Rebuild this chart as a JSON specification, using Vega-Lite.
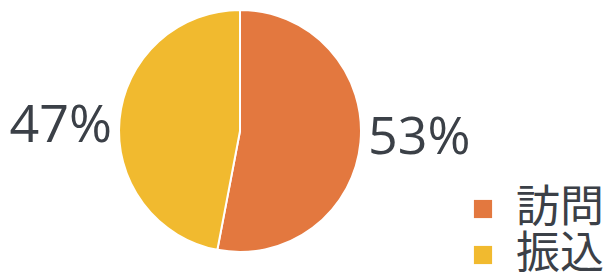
{
  "$schema": "https://vega.github.io/schema/vega-lite/v6.json",
  "width": 480,
  "height": 242,
  "autosize": "none",
  "padding": {"left": 0, "top": 10, "right": 124, "bottom": 23},
  "background": "white",
  "view": {"stroke": null},
  "data": {"values": [
    {"category": "訪問", "value": 53, "label": "53%", "ord": 1},
    {"category": "振込", "value": 47, "label": "47%", "ord": 2}
  ]},
  "encoding": {
    "theta": {"field": "value", "type": "quantitative", "stack": true},
    "order": {"field": "ord", "type": "quantitative"}
  },
  "layer": [
    {
      "mark": {"type": "arc", "outerRadius": 121, "stroke": "white", "strokeWidth": 2},
      "encoding": {
        "color": {
          "field": "category", "type": "nominal",
          "scale": {"domain": ["訪問", "振込"], "range": ["#E3783F", "#F1BA2F"]},
          "legend": {
            "title": null, "orient": "none", "legendX": 461, "legendY": 177,
            "symbolType": "square", "symbolSize": 330, "symbolStrokeWidth": 0,
            "labelFont": "Noto Sans CJK JP", "labelFontSize": 44, "labelColor": "#3b4047",
            "labelLimit": 200, "rowPadding": 2, "labelOffset": 11
          }
        }
      }
    },
    {
      "mark": {"type": "text", "radius": 180, "dy": -10, "font": "Open Sans", "fontSize": 52, "fill": "#3b4047"},
      "encoding": {
        "text": {"field": "label"},
        "opacity": {"condition": {"test": "datum.category === '訪問'", "value": 1}, "value": 0}
      }
    },
    {
      "mark": {"type": "text", "radius": 180, "dy": 12, "font": "Open Sans", "fontSize": 52, "fill": "#3b4047"},
      "encoding": {
        "text": {"field": "label"},
        "opacity": {"condition": {"test": "datum.category === '振込'", "value": 1}, "value": 0}
      }
    }
  ]
}
